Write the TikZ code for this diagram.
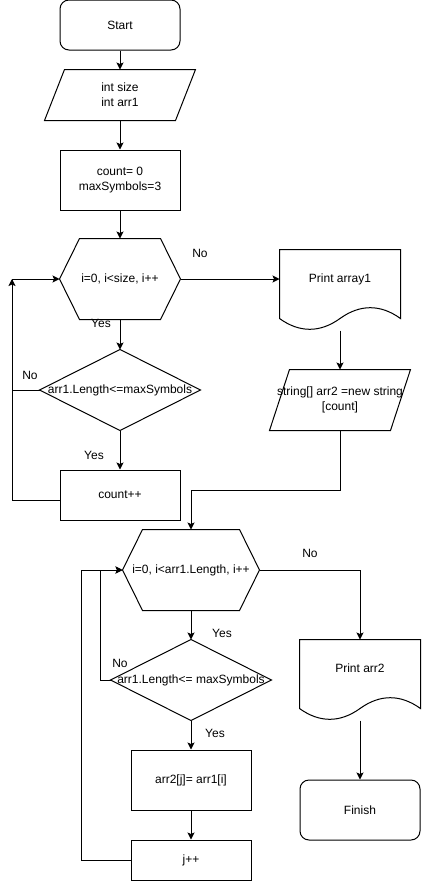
\documentclass[tikz,border=0pt]{standalone}
\usepackage{fontspec}
\setmainfont{Liberation Sans}
\usetikzlibrary{arrows.meta}
\tikzset{
  arr/.style={-{Stealth[length=7pt,width=7pt,inset=1.5pt]}},
  termbox/.style={draw, rounded corners=9pt, minimum width=120pt, minimum height=50pt, inner sep=0pt, align=center},
  procbox/.style={draw, minimum width=120pt, inner sep=0pt, align=center},
  iobox/.style={inner sep=0pt, align=center},
  hexbox/.style={minimum height=80pt, inner sep=0pt, align=center},
  decbox/.style={minimum width=160pt, minimum height=80pt, inner sep=0pt, align=center},
  docbox/.style={minimum width=120pt, minimum height=80pt, inner sep=0pt, text height=9pt, text depth=24pt, align=center},
  lbl/.style={inner sep=0pt}
}
% outlines drawn round plain rectangle nodes
\newcommand{\iooutline}[2]{\draw ([xshift=#2]#1.north west) -- (#1.north east) -- ([xshift=-#2]#1.south east) -- (#1.south west) -- cycle;}
\newcommand{\hexoutline}[1]{\draw (#1.west) -- ([xshift=20pt]#1.north west) -- ([xshift=-20pt]#1.north east) -- (#1.east) -- ([xshift=-20pt]#1.south east) -- ([xshift=20pt]#1.south west) -- cycle;}
\newcommand{\diaoutline}[1]{\draw (#1.north) -- (#1.east) -- (#1.south) -- (#1.west) -- cycle;}
\newcommand{\docoutline}[1]{\draw (#1.north west) -- (#1.north east) -- ([yshift=12pt]#1.south east) .. controls +(-20,14.4) and +(20,14.4) .. ([yshift=12pt]#1.south) .. controls +(-20,-14.4) and +(20,-14.4) .. ([yshift=12pt]#1.south west) -- cycle;}
\begin{document}
\begin{tikzpicture}[x=1pt,y=1pt,line width=1pt,font=\fontsize{12pt}{15pt}\selectfont]
	\useasboundingbox (0,0) rectangle (421,-881);
	% first part
	\node[termbox] (start) at (120,-25) {Start};
	\node[iobox, minimum width=150pt, minimum height=50pt] (inp) at (120,-95) {int size\\int arr1};
	\iooutline{inp}{20pt}
	\node[procbox, minimum height=60pt] (init) at (120,-180) {count= 0\\maxSymbols=3};
	\node[hexbox, minimum width=120pt] (loop1) at (120,-279) {i=0, i<size, i++};
	\hexoutline{loop1}
	\node[decbox] (check1) at (120,-390) {arr1.Length<=maxSymbols};
	\diaoutline{check1}
	\node[procbox, minimum height=50pt] (count) at (120,-495) {count++};
	\node[docbox] (print1) at (340,-290) {Print array1};
	\docoutline{print1}
	\node[iobox, minimum width=140pt, minimum height=60pt] (newarr) at (340,-400) {string[] arr2 =new string\\{[count]}};
	\iooutline{newarr}{20pt}
	% second part
	\node[hexbox, minimum width=136pt] (loop2) at (191,-570) {i=0, i<arr1.Length, i++};
	\hexoutline{loop2}
	\node[decbox] (check2) at (191,-680) {arr1.Length<= maxSymbols};
	\diaoutline{check2}
	\node[procbox, minimum height=60pt] (copy) at (191,-780) {arr2[j]= arr1[i]};
	\node[procbox, minimum height=40pt] (jinc) at (191,-860) {j++};
	\node[docbox] (print2) at (360,-680) {Print arr2};
	\docoutline{print2}
	\node[termbox, minimum height=60pt] (finish) at (360,-810) {Finish};
	% labels
	\node[lbl] (yes1) at (101,-323) {Yes};
	\node[lbl] (yes2) at (94,-455) {Yes};
	\node[lbl] (yes3) at (222,-633) {Yes};
	\node[lbl] (yes4) at (215,-733) {Yes};
	\node[lbl] (no1) at (200,-253) {No};
	\node[lbl] (no2) at (30,-375) {No};
	\node[lbl] (no3) at (310,-553) {No};
	\node[lbl] (no4) at (120,-663) {No};
	% connectors
	\coordinate (back1) at (12,-279);
	\coordinate (join1) at (191,-490);
	\coordinate (back2) at (100,-570);
	\coordinate (back3) at (81,-570);
	\draw[arr] (start) -- (inp);
	\draw[arr] (inp) -- (init);
	\draw[arr] (init) -- (loop1);
	\draw[arr] (loop1) -- (check1);
	\draw[arr] (check1) -- (count);
	\draw[arr] ([yshift=-5pt]count.west) -| (back1) -- (loop1.west);
	\draw[arr] (check1.west) -| (back1);
	\draw[arr] (loop1.east) -- (loop1.east -| print1.west);
	\draw[arr] (print1) -- (newarr);
	\draw[arr] (newarr) |- (join1) -- (loop2);
	\draw[arr] (loop2.east) -| (print2);
	\draw[arr] (print2) -- (finish);
	\draw[arr] (loop2) -- (check2);
	\draw[arr] (check2) -- (copy);
	\draw[arr] (copy) -- (jinc);
	\draw[arr] (check2.west) -| (back2) -- (loop2.west);
	\draw[arr] (jinc.west) -| (back3) -- (loop2.west);
\end{tikzpicture}
\end{document}
